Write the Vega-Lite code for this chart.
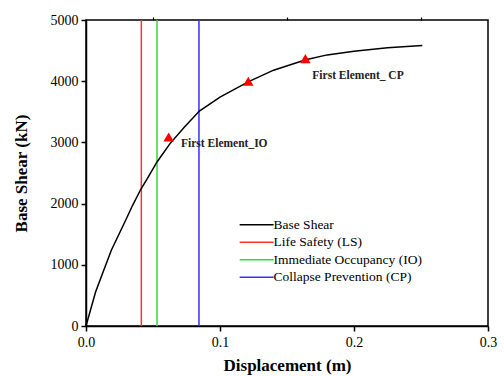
{
  "$schema": "https://vega.github.io/schema/vega-lite/v6.json",
  "width": 402,
  "height": 306,
  "autosize": {"type": "none"},
  "padding": {"left": 86, "top": 20, "right": 16, "bottom": 50},
  "background": "white",
  "config": {
    "view": {"stroke": "black", "strokeWidth": 1.5},
    "font": "Liberation Serif",
    "axis": {
      "grid": false,
      "domainColor": "black",
      "domainWidth": 1.5,
      "tickColor": "black",
      "tickWidth": 1.5,
      "tickSize": 5,
      "labelFlush": false,
      "labelColor": "black",
      "labelFont": "Liberation Serif",
      "labelFontSize": 14,
      "titleFont": "Liberation Serif",
      "titleFontSize": 17,
      "titleFontWeight": "bold",
      "titleColor": "black"
    },
    "legend": {
      "labelFont": "Liberation Serif",
      "labelFontSize": 13.5,
      "labelColor": "black",
      "labelLimit": 300,
      "symbolType": "M-1.2,0L6.8,0",
      "symbolSize": 72,
      "symbolStrokeWidth": 1.5,
      "labelOffset": 22,
      "rowPadding": 2.5
    }
  },
  "resolve": {"axis": {"x": "independent"}},
  "datasets": {
    "curve": [
      {"d": 0, "v": 0},
      {"d": 0.0072, "v": 560},
      {"d": 0.0148, "v": 1000},
      {"d": 0.0189, "v": 1237},
      {"d": 0.0303, "v": 1760},
      {"d": 0.0345, "v": 1960},
      {"d": 0.0408, "v": 2230},
      {"d": 0.0453, "v": 2390},
      {"d": 0.053, "v": 2680},
      {"d": 0.0627, "v": 2980},
      {"d": 0.0735, "v": 3250},
      {"d": 0.0846, "v": 3513},
      {"d": 0.1, "v": 3740},
      {"d": 0.121, "v": 3990},
      {"d": 0.14, "v": 4180},
      {"d": 0.164, "v": 4350},
      {"d": 0.18, "v": 4430},
      {"d": 0.2, "v": 4490},
      {"d": 0.225, "v": 4545},
      {"d": 0.251, "v": 4585}
    ],
    "limits": [
      {"d": 0.0413, "series": "Life Safety (LS)"},
      {"d": 0.053, "series": "Immediate Occupancy (IO)"},
      {"d": 0.0843, "series": "Collapse Prevention (CP)"}
    ],
    "points": [
      {"d": 0.0617, "v": 3088},
      {"d": 0.1211, "v": 3998},
      {"d": 0.1637, "v": 4369}
    ],
    "labels": [
      {"d": 0.0709, "v": 2980, "text": "First Element_IO"},
      {"d": 0.1689, "v": 4080, "text": "First Element_ CP"}
    ]
  },
  "layer": [
    {
      "data": {"name": "limits"},
      "mark": {"type": "rule", "strokeWidth": 1.5},
      "encoding": {
        "x": {"field": "d", "type": "quantitative", "scale": {"domain": [0, 0.3], "nice": false}, "axis": {"values": [0, 0.1, 0.2, 0.3], "format": ".1f", "title": "Displacement (m)", "labelPadding": 4, "titlePadding": 8}},
        "color": {
          "field": "series", "type": "nominal",
          "scale": {"domain": ["Base Shear", "Life Safety (LS)", "Immediate Occupancy (IO)", "Collapse Prevention (CP)"], "range": ["#000000", "#ff3030", "#30dd30", "#3030ff"]},
          "legend": {"title": null, "orient": "none", "legendX": 152, "legendY": 198}
        }
      }
    },
    {
      "data": {"name": "curve"},
      "mark": {"type": "line", "strokeWidth": 1.5},
      "encoding": {
        "x": {"field": "d", "type": "quantitative", "axis": null},
        "y": {"field": "v", "type": "quantitative", "scale": {"domain": [0, 5000], "nice": false}, "axis": {"values": [0, 1000, 2000, 3000, 4000, 5000], "format": "d", "title": "Base Shear (kN)", "labelPadding": 3, "titlePadding": 20}},
        "color": {"datum": "Base Shear"}
      }
    },
    {
      "data": {"name": "points"},
      "mark": {"type": "point", "shape": "triangle-up", "filled": true, "color": "#ff0000", "size": 110, "opacity": 1},
      "encoding": {
        "x": {"field": "d", "type": "quantitative", "axis": {"values": [0.05, 0.15, 0.25], "labels": false, "title": null, "domain": false, "tickSize": 3, "tickWidth": 1.2}},
        "y": {"field": "v", "type": "quantitative"}
      }
    },
    {
      "data": {"name": "labels"},
      "mark": {"type": "text", "align": "left", "baseline": "middle", "fontWeight": "bold", "fontSize": 11.5, "font": "Liberation Serif", "color": "#222222"},
      "encoding": {
        "x": {"field": "d", "type": "quantitative", "axis": null},
        "y": {"field": "v", "type": "quantitative"},
        "text": {"field": "text"}
      }
    }
  ]
}
